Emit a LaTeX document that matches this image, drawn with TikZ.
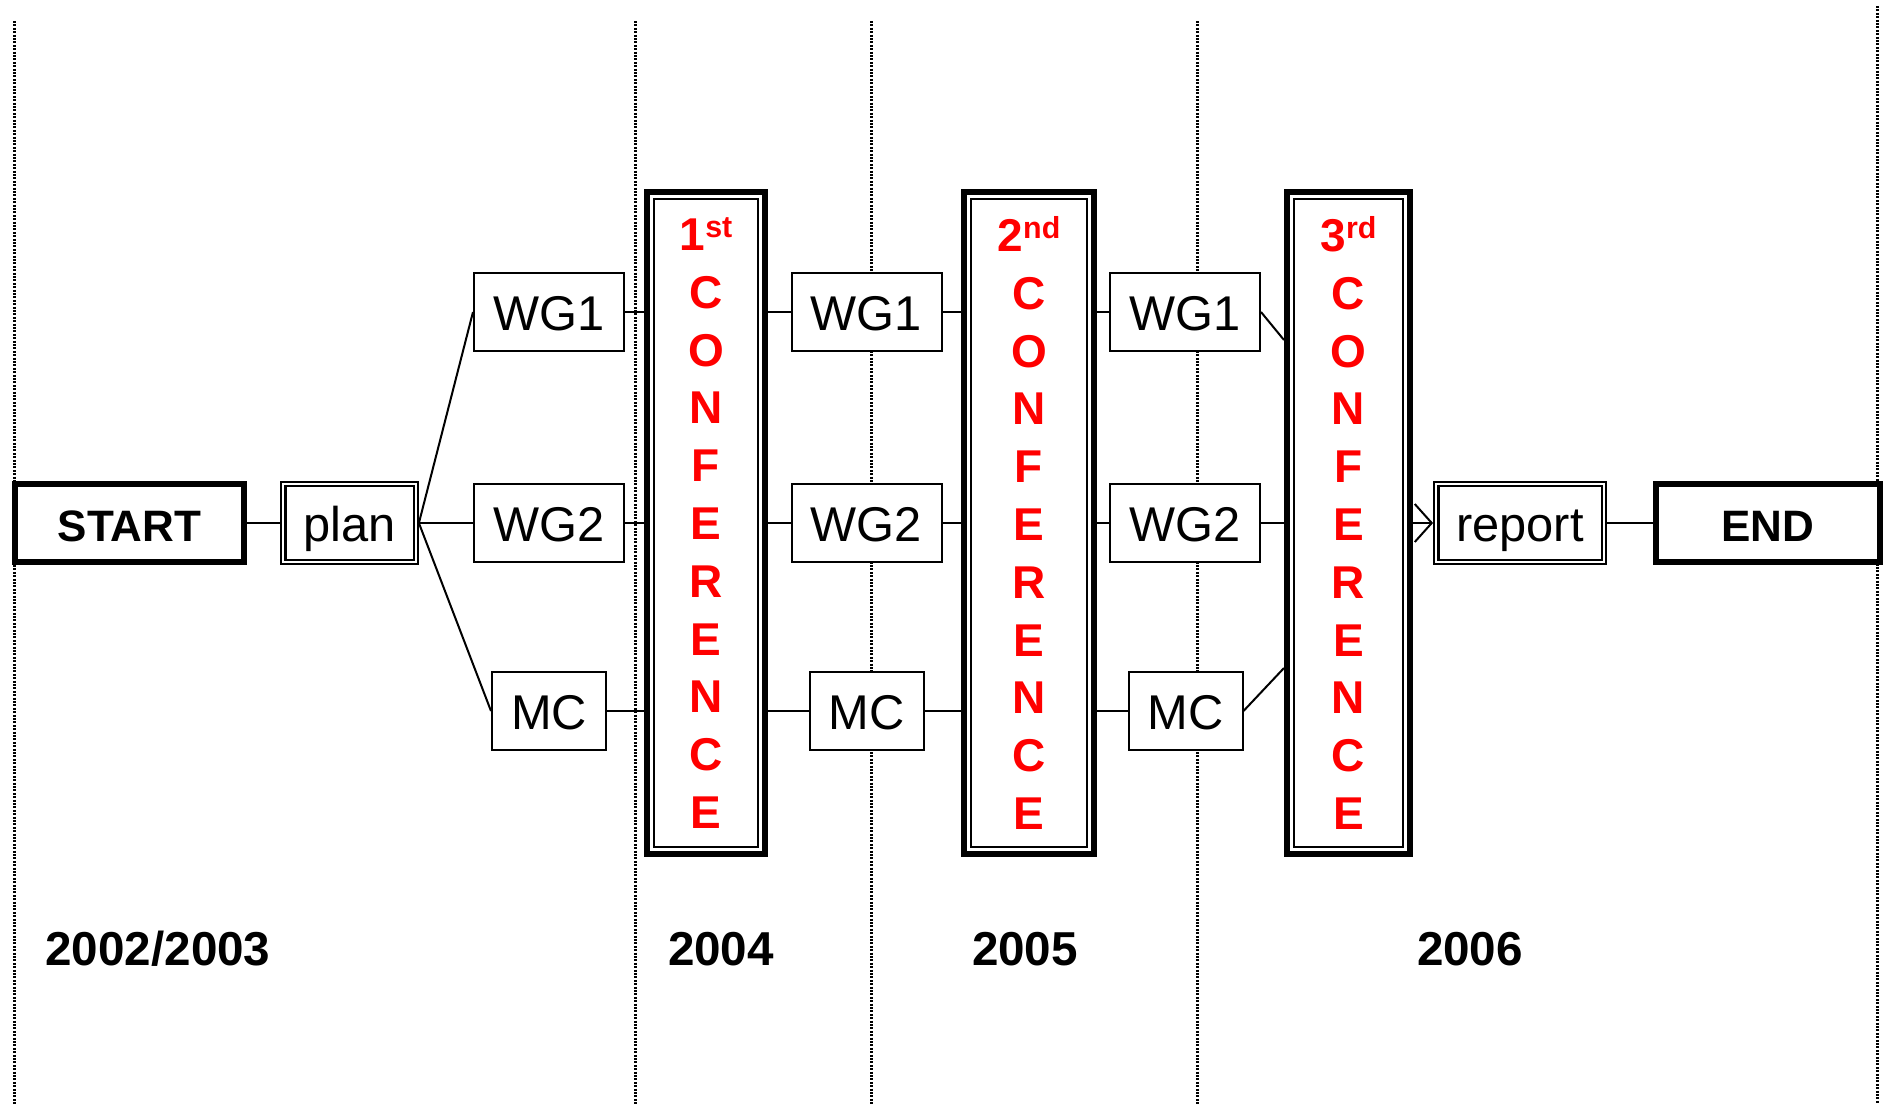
\documentclass[tikz,border=0pt]{standalone}
\usepackage{fontspec}
\setmainfont{Liberation Sans}
\usepackage{tikz}
\usetikzlibrary{arrows.meta}
\usepackage{xcolor}
\definecolor{confred}{RGB}{255,0,0}
\newcommand{\confnth}[2]{#1\raisebox{3.25pt}{\fontsize{7.6}{8}\selectfont #2}}

\begin{document}
\begin{tikzpicture}[
    x=0.25pt, y=-0.25pt,
    endbox/.style={rectangle, draw, line width=1.5pt, fill=white, minimum width=57.25pt,
                   minimum height=19.5pt, inner sep=0pt, text height=9.2pt, text depth=0pt,
                   font=\fontsize{11}{12}\selectfont\bfseries},
    dblbox/.style={rectangle, draw, double, line width=0.55pt, double distance=0.5pt, outer sep=0.8pt,
                   fill=white, minimum height=19.6pt, inner sep=0pt, text height=9pt, text depth=0pt,
                   font=\fontsize{12.2}{13}\selectfont},
    wgbox/.style={rectangle, draw, line width=0.5pt, fill=white, minimum width=37.5pt,
                  minimum height=19.5pt, inner sep=0pt, text height=9pt, text depth=0pt,
                  font=\fontsize{12.2}{13}\selectfont},
    confbox/.style={rectangle, draw, line width=1.5pt, fill=white, minimum height=165.5pt,
                    inner sep=0pt, text=confred, align=center,
                    font=\fontsize{11.5}{14.45}\selectfont\bfseries,
                    path picture={\draw[line width=0.35pt]
                      ([shift={(1.75pt,-1.75pt)}]path picture bounding box.north west) rectangle
                      ([shift={(-1.75pt,1.75pt)}]path picture bounding box.south east);}},
    year/.style={font=\fontsize{11.9}{13}\selectfont\bfseries},
    link/.style={line width=0.5pt},
    yearline/.style={line width=0.75pt, dash pattern=on 0.5pt off 0.35pt}
  ]
    \useasboundingbox (0,0) rectangle (1887,1104);

    % year separators
    \foreach \x/\y in {14/21, 635/21, 871/21, 1197/21, 1877/6}
      \draw[yearline] (\x,\y) -- (\x,1104);

    \node[endbox] (start) at (129.5,523) {START};
    \node[dblbox, minimum width=33.1pt] (plan) at (349.5,523) {plan};

    \node[wgbox] (wg1a) at (549,312) {WG1};
    \node[wgbox] (wg2a) at (549,523) {WG2};
    \node[wgbox, minimum width=28.5pt] (mca) at (549,711) {MC};

    \node[confbox, minimum width=29.5pt] (c1) at (706,523)
      {\confnth{1}{st}\\C\\O\\N\\F\\E\\R\\E\\N\\C\\E};

    \node[wgbox] (wg1b) at (866.5,312) {WG1};
    \node[wgbox] (wg2b) at (866.5,523) {WG2};
    \node[wgbox, minimum width=28.5pt] (mcb) at (866.5,711) {MC};

    \node[confbox, minimum width=32.5pt] (c2) at (1029,523)
      {\confnth{2}{nd}\\C\\O\\N\\F\\E\\R\\E\\N\\C\\E};

    \node[wgbox] (wg1c) at (1185,312) {WG1};
    \node[wgbox] (wg2c) at (1185,523) {WG2};
    \node[wgbox, minimum width=28.5pt] (mcc) at (1185.5,711) {MC};

    \node[confbox, minimum width=30.75pt] (c3) at (1348.5,523)
      {\confnth{3}{rd}\\C\\O\\N\\F\\E\\R\\E\\N\\C\\E};

    \node[dblbox, minimum width=41.85pt] (report) at (1520,523) {report};
    \node[endbox, minimum width=56pt] (finish) at (1768,523) {END};

    \node[year] (y0) at (158,949) {2002/2003};
    \node[year] (y1) at (721,949) {2004};
    \node[year] (y2) at (1025,949) {2005};
    \node[year] (y3) at (1470,949) {2006};

    % connectors
    \draw[link] (start) -- (plan);
    \draw[link] (plan.east) -- (wg1a.west);
    \draw[link] (plan.east) -- (wg2a.west);
    \draw[link] (plan.east) -- (mca.west);

    \draw[link] (wg1a) -- (wg1a -| c1.west);
    \draw[link] (wg2a) -- (wg2a -| c1.west);
    \draw[link] (mca) -- (mca -| c1.west);

    \draw[link] (c1.east |- wg1b) -- (wg1b);
    \draw[link] (c1.east |- wg2b) -- (wg2b);
    \draw[link] (c1.east |- mcb) -- (mcb);
    \draw[link] (wg1b) -- (wg1b -| c2.west);
    \draw[link] (wg2b) -- (wg2b -| c2.west);
    \draw[link] (mcb) -- (mcb -| c2.west);

    \draw[link] (c2.east |- wg1c) -- (wg1c);
    \draw[link] (c2.east |- wg2c) -- (wg2c);
    \draw[link] (c2.east |- mcc) -- (mcc);
    \draw[link] (wg1c.east) -- ([yshift=45.75pt]c3.west);
    \draw[link] (wg2c) -- (wg2c -| c3.west);
    \draw[link] (mcc.east) -- ([yshift=-36.25pt]c3.west);

    \draw[link, -{Straight Barb[length=4.25pt, width=9.5pt]}] (c3.east |- report) -- (report);
    \draw[link] (report) -- (finish);
  \end{tikzpicture}
\end{document}
